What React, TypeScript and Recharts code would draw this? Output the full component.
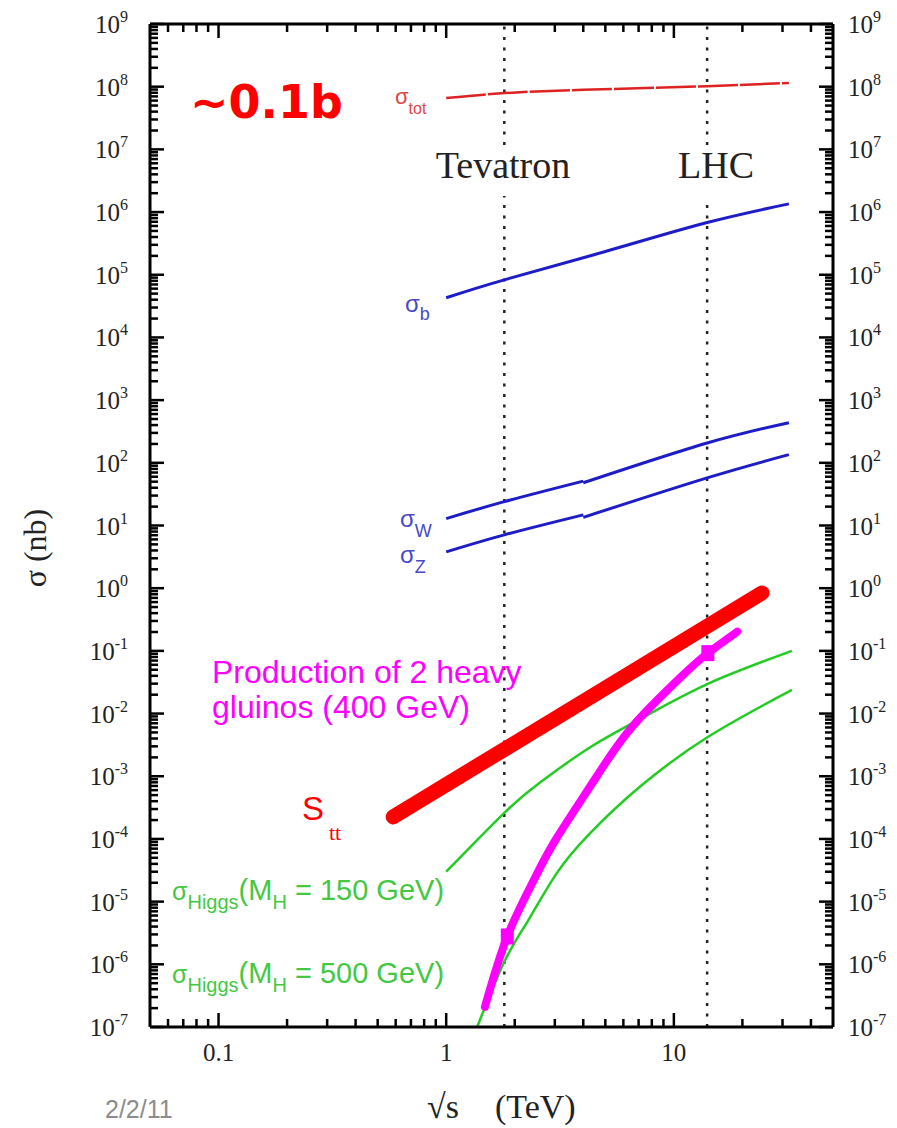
import React from 'react';
import { ComposedChart, Line, Scatter, XAxis, YAxis, ReferenceLine } from 'recharts';

// ---- tick definitions ----
const xMajorTicks = [0.1, 1, 10];
const xMinorTicks = [0.06, 0.07, 0.08, 0.09, 0.2, 0.3, 0.4, 0.5, 0.6, 0.7, 0.8, 0.9, 2, 3, 4, 5, 6, 7, 8, 9, 20, 30, 40];
const yExponents = [-7, -6, -5, -4, -3, -2, -1, 0, 1, 2, 3, 4, 5, 6, 7, 8, 9];
const yMinorMultipliers = [2, 3, 4, 5, 6, 7, 8, 9];

// ---- collider energies (TeV) ----
const tevatronEnergy = 1.8;
const lhcEnergy = 14;

// ---- series (x: sqrt(s) in TeV, y: sigma in nb) ----
const sigmaTotX = [1, 1.8, 4, 14, 32];
const sigmaTotY = [6.6e7, 7.9e7, 8.9e7, 1.02e8, 1.15e8];

const sigmaBX = [1, 1.8, 5, 14, 32];
const sigmaBY = [4.3e4, 8.3e4, 2.35e5, 6.8e5, 1.35e6];

// W and Z: p-pbar branch below 4 TeV, p-p branch above
const sigmaWppbarX = [1, 1.8, 4];
const sigmaWppbarY = [12.9, 24, 51];
const sigmaWppX = [4, 14, 32];
const sigmaWppY = [48, 207, 437];

const sigmaZppbarX = [1, 1.8, 4];
const sigmaZppbarY = [3.8, 7.1, 14.8];
const sigmaZppX = [4, 14, 32];
const sigmaZppY = [13.5, 57.5, 135];

const sigmaTTX = [0.585, 24.4];
const sigmaTTY = [2.25e-4, 0.84];

const higgs150X = [1.0, 1.8, 2.59, 4.29, 7.11, 14.1, 33];
const higgs150Y = [3.0e-5, 2.61e-4, 8.0e-4, 2.9e-3, 8.2e-3, 2.98e-2, 0.1];

const higgs500X = [1.368, 1.8, 2.3, 3.06, 4.29, 7.11, 14.2, 33];
const higgs500Y = [1e-7, 1.1e-6, 5.13e-6, 2.85e-5, 1.24e-4, 6.85e-4, 4.3e-3, 2.39e-2];

const gluinoX = [1.48, 1.855, 2.43, 3.05, 4.58, 6.57, 10.8, 14.1, 19.0];
const gluinoY = [2.1e-7, 2.78e-6, 2.23e-5, 1.02e-4, 9.9e-4, 6.2e-3, 3.9e-2, 9.2e-2, 0.203];

const gluinoMarkX = [1.855, 14.1];
const gluinoMarkY = [2.78e-6, 9.2e-2];

const zip = (xs: number[], ys: number[]) => xs.map((x, i) => ({ x, y: ys[i] }));

const sigmaTot = zip(sigmaTotX, sigmaTotY);
const sigmaB = zip(sigmaBX, sigmaBY);
const sigmaWppbar = zip(sigmaWppbarX, sigmaWppbarY);
const sigmaWpp = zip(sigmaWppX, sigmaWppY);
const sigmaZppbar = zip(sigmaZppbarX, sigmaZppbarY);
const sigmaZpp = zip(sigmaZppX, sigmaZppY);
const sigmaTT = zip(sigmaTTX, sigmaTTY);
const higgs150 = zip(higgs150X, higgs150Y);
const higgs500 = zip(higgs500X, higgs500Y);
const gluino = zip(gluinoX, gluinoY);
const gluinoMarks = zip(gluinoMarkX, gluinoMarkY);

const xTicks = [...xMinorTicks, ...xMajorTicks].sort((a, b) => a - b);
const yTicks: number[] = [];
yExponents.forEach((e) => {
  yTicks.push(Math.pow(10, e));
  if (e < 9) yMinorMultipliers.forEach((m) => yTicks.push(m * Math.pow(10, e)));
});

const isMajor = (v: number) => Math.abs(Math.log10(v) - Math.round(Math.log10(v))) < 1e-6;

const SERIF = '"Liberation Serif", "Times New Roman", serif';
const SANS = '"Liberation Sans", Arial, sans-serif';
const MAJOR = 14;
const MINOR = 8;

const XTick = (props: any) => {
  const { x, y, payload, side } = props;
  const v = payload.value;
  const major = isMajor(v);
  const len = major ? MAJOR : MINOR;
  const dir = side === 'bottom' ? -1 : 1;
  return (
    <g>
      <line x1={x} y1={y} x2={x} y2={y + dir * len} stroke="#000" strokeWidth={2.5} />
      {major && side === 'bottom' ? (
        <text x={x} y={y + 34} textAnchor="middle" fontFamily={SERIF} fontSize={25} fill="#222">
          {v >= 1 ? String(Math.round(v)) : String(v)}
        </text>
      ) : null}
    </g>
  );
};

const YTick = (props: any) => {
  const { x, y, payload, side } = props;
  const v = payload.value;
  const major = isMajor(v);
  const len = major ? MAJOR : MINOR;
  const dir = side === 'left' ? 1 : -1;
  const exp = Math.round(Math.log10(v));
  return (
    <g>
      <line x1={x} y1={y} x2={x + dir * len} y2={y} stroke="#000" strokeWidth={2.5} />
      {major ? (
        <text
          x={side === 'left' ? x - 22 : x + 15}
          y={y + 9}
          textAnchor={side === 'left' ? 'end' : 'start'}
          fontFamily={SERIF}
          fontSize={25}
          fill="#222"
        >
          <tspan>10</tspan>
          <tspan dy={-11} fontSize={16}>{String(exp)}</tspan>
        </text>
      ) : null}
    </g>
  );
};

const GluinoMark = (props: any) => {
  const { cx, cy } = props;
  return <rect x={cx - 6.5} y={cy - 8} width={13} height={16} fill="#ff00ff" />;
};

const Sigma = ({ x, y, sub, color, size, subSize, subDy }: any) => (
  <text x={x} y={y} fontFamily={SANS} fontSize={size} fill={color}>
    <tspan>σ</tspan>
    <tspan dy={subDy} fontSize={subSize}>{sub}</tspan>
  </text>
);

const HiggsLabel = ({ x, y, mass }: any) => (
  <text x={x} y={y} fontFamily={SANS} fontSize={29} fill="#44c844">
    <tspan fontSize={25}>σ</tspan>
    <tspan dy={9} fontSize={20}>Higgs</tspan>
    <tspan dy={-9}>(M</tspan>
    <tspan dy={9} fontSize={20}>H</tspan>
    <tspan dy={-9}>{` = ${mass} GeV)`}</tspan>
  </text>
);

const blue = '#1c1cc8';

export default function App() {
  return (
    <div style={{ position: 'absolute', left: 0, top: 0, width: 897, height: 1128, background: '#fff' }}>
      <ComposedChart width={897} height={1128} margin={{ top: 0, right: 0, bottom: 0, left: 0 }}>
        <XAxis
          xAxisId="b"
          dataKey="x"
          type="number"
          scale="log"
          domain={[0.05, 50]}
          allowDataOverflow
          ticks={xTicks}
          interval={0}
          height={101}
          tickSize={0}
          tickMargin={0}
          tickLine={false}
          axisLine={{ stroke: '#000', strokeWidth: 3 }}
          tick={(p: any) => <XTick {...p} side="bottom" />}
        />
        <XAxis
          xAxisId="t"
          orientation="top"
          dataKey="x"
          type="number"
          scale="log"
          domain={[0.05, 50]}
          allowDataOverflow
          ticks={xTicks}
          interval={0}
          height={24}
          tickSize={0}
          tickMargin={0}
          tickLine={false}
          axisLine={{ stroke: '#000', strokeWidth: 3 }}
          tick={(p: any) => <XTick {...p} side="top" />}
        />
        <YAxis
          yAxisId="l"
          dataKey="y"
          type="number"
          scale="log"
          domain={[1e-7, 1e9]}
          allowDataOverflow
          ticks={yTicks}
          interval={0}
          width={150}
          tickSize={0}
          tickMargin={0}
          tickLine={false}
          axisLine={{ stroke: '#000', strokeWidth: 3 }}
          tick={(p: any) => <YTick {...p} side="left" />}
        />
        <YAxis
          yAxisId="r"
          orientation="right"
          dataKey="y"
          type="number"
          scale="log"
          domain={[1e-7, 1e9]}
          allowDataOverflow
          ticks={yTicks}
          interval={0}
          width={64}
          tickSize={0}
          tickMargin={0}
          tickLine={false}
          axisLine={{ stroke: '#000', strokeWidth: 3 }}
          tick={(p: any) => <YTick {...p} side="right" />}
        />
        <ReferenceLine xAxisId="b" yAxisId="l" x={tevatronEnergy} stroke="#222" strokeWidth={2.5} strokeDasharray="3 7.5" />
        <ReferenceLine xAxisId="b" yAxisId="l" x={lhcEnergy} stroke="#222" strokeWidth={2.5} strokeDasharray="3 7.5" />

        <Line xAxisId="b" yAxisId="l" data={sigmaTot} dataKey="y" type="natural" stroke="#dd2222" strokeWidth={2.5} strokeDasharray="40 2" dot={false} isAnimationActive={false} />
        <Line xAxisId="b" yAxisId="l" data={sigmaB} dataKey="y" type="natural" stroke={blue} strokeWidth={3} dot={false} isAnimationActive={false} />
        <Line xAxisId="b" yAxisId="l" data={sigmaWppbar} dataKey="y" type="natural" stroke={blue} strokeWidth={3} dot={false} isAnimationActive={false} />
        <Line xAxisId="b" yAxisId="l" data={sigmaWpp} dataKey="y" type="natural" stroke={blue} strokeWidth={3} dot={false} isAnimationActive={false} />
        <Line xAxisId="b" yAxisId="l" data={sigmaZppbar} dataKey="y" type="natural" stroke={blue} strokeWidth={3} dot={false} isAnimationActive={false} />
        <Line xAxisId="b" yAxisId="l" data={sigmaZpp} dataKey="y" type="natural" stroke={blue} strokeWidth={3} dot={false} isAnimationActive={false} />
        <Line xAxisId="b" yAxisId="l" data={higgs150} dataKey="y" type="natural" stroke="#22cc22" strokeWidth={2.5} dot={false} isAnimationActive={false} />
        <Line xAxisId="b" yAxisId="l" data={higgs500} dataKey="y" type="natural" stroke="#22cc22" strokeWidth={2.5} dot={false} isAnimationActive={false} />
        <Line xAxisId="b" yAxisId="l" data={sigmaTT} dataKey="y" type="linear" stroke="#ff0000" strokeWidth={15} strokeLinecap="round" dot={false} isAnimationActive={false} />
        <Line xAxisId="b" yAxisId="l" data={gluino} dataKey="y" type="natural" stroke="#ff00ff" strokeWidth={8} strokeLinecap="round" dot={false} isAnimationActive={false} />
        <Scatter xAxisId="b" yAxisId="l" data={gluinoMarks} dataKey="y" fill="#ff00ff" shape={(p: any) => <GluinoMark {...p} />} isAnimationActive={false} />
      </ComposedChart>

      <svg width={897} height={1128} style={{ position: 'absolute', left: 0, top: 0, pointerEvents: 'none' }}>
        <text x={190} y={118} fontFamily='"DejaVu Sans", sans-serif' fontWeight="bold" fontSize={46} fill="#ff0000">~0.1b</text>

        <Sigma x={395} y={104} sub="tot" color="#e04545" size={22} subSize={16} subDy={10} />

        <rect x={424} y={146} width={158} height={50} fill="#fff" />
        <text x={503} y={178} textAnchor="middle" fontFamily={SERIF} fontSize={38} fill="#222">Tevatron</text>
        <rect x={670} y={148} width={94} height={50} fill="#fff" />
        <text x={716} y={178} textAnchor="middle" fontFamily={SERIF} fontSize={38} fill="#222">LHC</text>

        <Sigma x={405} y={312} sub="b" color="#4848c8" size={24} subSize={18} subDy={8} />
        <Sigma x={400} y={527} sub="W" color="#4848c8" size={24} subSize={18} subDy={10} />
        <Sigma x={400} y={563} sub="Z" color="#4848c8" size={24} subSize={18} subDy={10} />

        <text x={212} y={683} fontFamily={SANS} fontSize={32} fill="#ff00ff">Production of 2 heavy</text>
        <text x={212} y={718} fontFamily={SANS} fontSize={32} fill="#ff00ff">gluinos (400 GeV)</text>

        <text x={302} y={820} fontFamily={SANS} fontSize={33} fill="#ff0000">S</text>
        <text x={329} y={840} fontFamily={SERIF} fontSize={22} fill="#ff0000">tt</text>

        <HiggsLabel x={172} y={900} mass={150} />
        <HiggsLabel x={172} y={983} mass={500} />

        <text
          x={0}
          y={0}
          transform="translate(46,548) rotate(-90)"
          textAnchor="middle"
          fontFamily={SERIF}
          fontSize={32}
          fill="#222"
        >
          σ  (nb)
        </text>

        <text x={427} y={1118} fontFamily={SERIF} fontSize={34} fill="#222">√s</text>
        <text x={495} y={1118} fontFamily={SERIF} fontSize={34} fill="#222">(TeV)</text>

        <text x={105} y={1118} fontFamily={SANS} fontSize={25} fill="#8c8c8c">2/2/11</text>
      </svg>
    </div>
  );
}
